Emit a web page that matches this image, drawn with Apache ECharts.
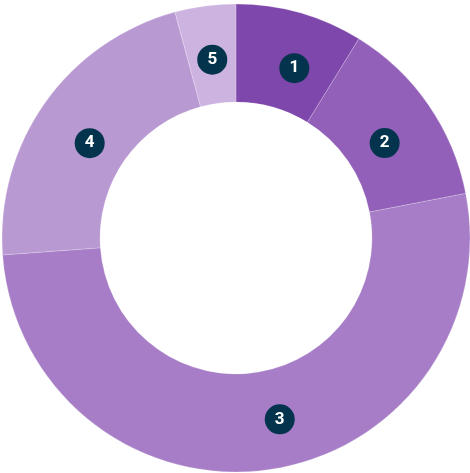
<!DOCTYPE html>
<html>
<head>
<meta charset="utf-8">
<script src="https://cdn.jsdelivr.net/npm/echarts@6/dist/echarts.min.js"></script>
<style>
  html, body { margin: 0; padding: 0; background: #fff; }
  #chart { width: 470px; height: 473px; }
</style>
</head>
<body>
<div id="chart"></div>
<script>
// slice names and shares (%)
const names = ['1', '2', '3', '4', '5'];
const values = [8.8, 13.15, 51.9, 21.95, 4.2];
const colors = ['#7e47ab', '#9260b9', '#a67dc6', '#b999d2', '#cdb4e0'];
// small nudges so the badges sit where the original put them
const labelOffsets = [[7, 11], [-6, 12], [19, -5], [7, 14], [1, 8]];

const chart = echarts.init(document.getElementById('chart'));

const option = {
  animation: false,
  series: [
    {
      type: 'pie',
      center: [236, 238],
      radius: [136, 234],
      startAngle: 90,
      clockwise: true,
      avoidLabelOverlap: false,
      itemStyle: {
        borderColor: 'rgba(255,255,255,0.35)',
        borderWidth: 0.6
      },
      label: {
        show: true,
        position: 'inside',
        formatter: '{b}',
        color: '#ffffff',
        fontFamily: 'Roboto',
        fontWeight: 'bold',
        fontSize: 17,
        backgroundColor: '#04344d',
        width: 30,
        height: 30,
        lineHeight: 30,
        borderRadius: 15,
        align: 'center',
        verticalAlign: 'middle'
      },
      labelLine: { show: false },
      emphasis: { disabled: true },
      data: names.map((n, i) => ({
        name: n,
        value: values[i],
        itemStyle: { color: colors[i] },
        label: { offset: labelOffsets[i] }
      }))
    }
  ]
};

chart.setOption(option);
</script>
</body>
</html>
